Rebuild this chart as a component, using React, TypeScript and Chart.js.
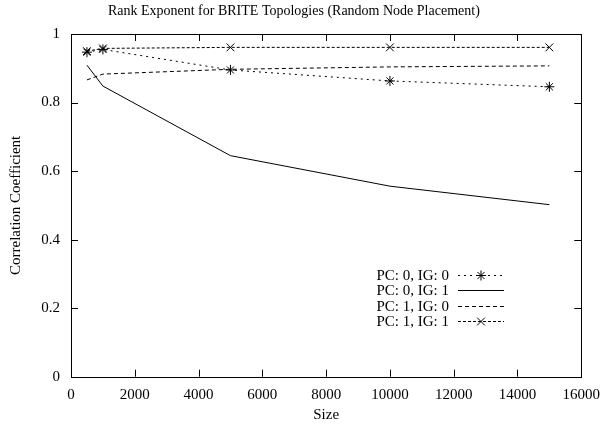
import React, { useEffect, useRef } from 'react';
import { Chart, registerables } from 'chart.js';

Chart.register(...registerables);

const sizes = [500, 1000, 5000, 10000, 15000];
const pc0ig0 = [0.947, 0.955, 0.895, 0.863, 0.846];
const pc0ig1 = [0.909, 0.848, 0.645, 0.556, 0.502];
const pc1ig0 = [0.866, 0.883, 0.897, 0.904, 0.907];
const pc1ig1 = [0.95, 0.958, 0.961, 0.961, 0.961];
const seriesLabels = ['PC: 0, IG: 0', 'PC: 0, IG: 1', 'PC: 1, IG: 0', 'PC: 1, IG: 1'];
const titleText = 'Rank Exponent for BRITE Topologies (Random Node Placement)';
const xTitle = 'Size';
const yTitle = 'Correlation Coefficient';

const FONT = "'Liberation Serif', 'Times New Roman', serif";

function drawMarker(ctx: CanvasRenderingContext2D, style: string, x: number, y: number, r: number) {
  ctx.save();
  ctx.setLineDash([]);
  ctx.lineWidth = 1;
  ctx.strokeStyle = '#000';
  ctx.beginPath();
  const d = Math.cos(Math.PI / 4) * r;
  if (style === 'star') {
    ctx.moveTo(x, y - r); ctx.lineTo(x, y + r);
    ctx.moveTo(x - r, y); ctx.lineTo(x + r, y);
  }
  ctx.moveTo(x - d, y - d); ctx.lineTo(x + d, y + d);
  ctx.moveTo(x - d, y + d); ctx.lineTo(x + d, y - d);
  ctx.stroke();
  ctx.restore();
}

const framePlugin = {
  id: 'gnuFrame',
  afterDatasetsDraw(chart: any) {
    const { ctx, chartArea } = chart;
    const { left, right, top, bottom } = chartArea;
    const xs = chart.scales.x;
    const ys = chart.scales.y;
    const tl = 7;
    ctx.save();
    ctx.strokeStyle = '#000';
    ctx.lineWidth = 1;
    ctx.setLineDash([]);
    ctx.beginPath();
    xs.ticks.forEach((t: any) => {
      const px = Math.round(xs.getPixelForValue(t.value)) + 0.5;
      ctx.moveTo(px, bottom); ctx.lineTo(px, bottom - tl);
      ctx.moveTo(px, top); ctx.lineTo(px, top + tl);
    });
    ys.ticks.forEach((t: any) => {
      const py = Math.round(ys.getPixelForValue(t.value)) + 0.5;
      ctx.moveTo(left, py); ctx.lineTo(left + tl, py);
      ctx.moveTo(right, py); ctx.lineTo(right - tl, py);
    });
    ctx.stroke();
    ctx.strokeRect(Math.round(left) + 0.5, Math.round(top) + 0.5, Math.round(right - left), Math.round(bottom - top));

    // legend
    ctx.font = `15px ${FONT}`;
    ctx.fillStyle = '#000';
    ctx.textAlign = 'right';
    ctx.textBaseline = 'middle';
    chart.data.datasets.forEach((ds: any, i: number) => {
      const y = 275 + i * 15.3;
      ctx.fillText(ds.label, 449, y + 1);
      ctx.save();
      ctx.setLineDash(ds.borderDash || []);
      ctx.beginPath();
      ctx.moveTo(458, Math.round(y) + 0.5);
      ctx.lineTo(504, Math.round(y) + 0.5);
      ctx.stroke();
      ctx.restore();
      if (ds.pointRadius > 0) drawMarker(ctx, ds.pointStyle, 481, Math.round(y) + 0.5, ds.pointRadius);
    });
    ctx.restore();
  },
};

export default function App() {
  const ref = useRef<HTMLCanvasElement>(null);
  useEffect(() => {
    if (!ref.current) return;
    const mk = (label: string, data: number[], dash: number[], style: string | false, r: number) => ({
      label,
      data: sizes.map((s, i) => ({ x: s, y: data[i] })),
      borderColor: '#000',
      backgroundColor: '#000',
      borderWidth: 1,
      borderDash: dash,
      pointStyle: style || 'circle',
      pointRadius: r,
      pointBorderWidth: 1,
      pointBorderColor: '#000',
      tension: 0,
      fill: false,
    });
    const chart = new Chart(ref.current, {
      type: 'line',
      data: {
        datasets: [
          mk(seriesLabels[0], pc0ig0, [2, 4], 'star', 5),
          mk(seriesLabels[1], pc0ig1, [], false, 0),
          mk(seriesLabels[2], pc1ig0, [4, 3], false, 0),
          mk(seriesLabels[3], pc1ig1, [3, 2], 'crossRot', 5.5),
        ] as any,
      },
      options: {
        animation: false,
        responsive: false,
        events: [],
        layout: { padding: { top: 0, left: 0, right: 21.3, bottom: 0 } },
        plugins: {
          legend: { display: false },
          tooltip: { enabled: false },
          title: {
            display: true,
            text: titleText,
            color: '#000',
            font: { family: FONT, size: 14, weight: 'normal' },
            padding: { top: 3, bottom: 14.2 },
          },
        },
        scales: {
          x: {
            type: 'linear',
            min: 0,
            max: 16000,
            grid: { display: false, drawTicks: false },
            border: { display: false },
            ticks: {
              stepSize: 2000,
              color: '#000',
              padding: 9,
              maxRotation: 0,
              font: { family: FONT, size: 15 },
              callback: (v: any) => String(v),
            },
            title: {
              display: true,
              text: xTitle,
              color: '#000',
              font: { family: FONT, size: 15 },
              padding: { top: 0, bottom: 4 },
            },
            afterFit: (s: any) => { s.height = 51.3; },
          },
          y: {
            min: 0,
            max: 1,
            grid: { display: false, drawTicks: false },
            border: { display: false },
            ticks: {
              stepSize: 0.2,
              color: '#000',
              padding: 11,
              font: { family: FONT, size: 15 },
              callback: (v: any) => String(Math.round(v * 10) / 10),
            },
            title: {
              display: true,
              text: yTitle,
              color: '#000',
              font: { family: FONT, size: 15 },
              padding: { top: 7, bottom: 0 },
            },
            afterFit: (s: any) => { s.width = 71; },
          },
        },
      },
      plugins: [framePlugin],
    });
    return () => chart.destroy();
  }, []);
  return (
    <div style={{ position: 'fixed', left: 0, top: 0, width: 609, height: 428, background: '#fff' }}>
      <canvas ref={ref} width={609} height={428} style={{ width: 609, height: 428 }} />
    </div>
  );
}
